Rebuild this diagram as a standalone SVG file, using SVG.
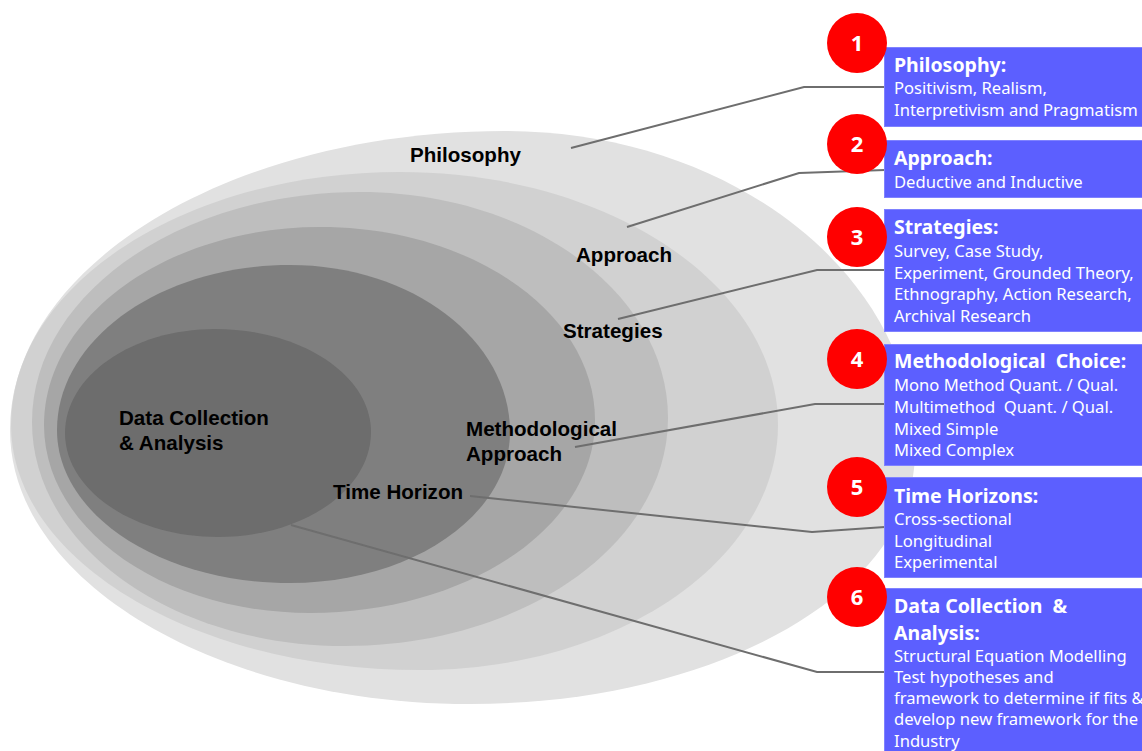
<svg xmlns="http://www.w3.org/2000/svg" width="1142" height="751" viewBox="0 0 1142 751">
  <style>
    .ring-label { font-family: "Liberation Sans", Arial, sans-serif; font-weight: bold; font-size: 20.6px; fill: #000; }
    .connector { fill: none; stroke: #6e6e6e; stroke-width: 2; }
    .box { fill: #5c5fff; stroke: #7f82ff; stroke-width: 1; }
    .badge { fill: #ff0000; }
    .badge-num { font-family: "Noto Sans", "Open Sans", sans-serif; font-weight: bold; font-size: 22px; fill: #fff; text-anchor: middle; }
    .box-title { font-family: "Noto Sans", "Open Sans", sans-serif; font-weight: bold; font-size: 19.5px; fill: #fff; white-space: pre; }
    .box-text { font-family: "Noto Sans", "Open Sans", sans-serif; font-size: 16.6px; fill: #fff; white-space: pre; }
  </style>

  <rect x="0" y="0" width="1142" height="751" fill="#ffffff"/>

  <!-- research onion layers, outermost first -->
  <g id="onion">
    <path id="layer-philosophy" fill="#e1e1e1" d="M10,430 C10,265 232,131 505,131 C731,131 915,275 915,452 C915,591 716,704 470,704 C216,704 10,581 10,430 Z"/>
    <path id="layer-approach" fill="#d1d1d1" d="M11,425 C11,285 185,172 400,172 C609,172 778,285 778,425 C778,560 618,670 420,670 C194,670 11,560 11,425 Z"/>
    <path id="layer-strategies" fill="#bebebe" d="M32,422 C32,295 179,192 360,192 C530,192 668,293 668,418 C668,544 523,646 345,646 C172,646 32,546 32,422 Z"/>
    <path id="layer-method" fill="#a6a6a6" d="M44,425 C44,316 168,227 320,227 C472,227 595,313 595,420 C595,527 467,613 310,613 C163,613 44,529 44,425 Z"/>
    <path id="layer-time" fill="#7f7f7f" d="M57,430 C57,339 161,265 290,265 C412,265 510,340 510,432 C510,515 412,583 290,583 C161,583 57,515 57,430 Z"/>
    <path id="layer-data" fill="#6d6d6d" d="M65,433 C65,376 132,329 215,329 C301,329 371,375 371,432 C371,490 303,537 218,537 C133,537 65,490 65,433 Z"/>
  </g>

  <!-- layer names -->
  <g id="onion-labels">
    <text class="ring-label" x="410" y="162">Philosophy</text>
    <text class="ring-label" x="576" y="262">Approach</text>
    <text class="ring-label" x="563" y="338">Strategies</text>
    <text class="ring-label" x="466" y="436">Methodological</text>
    <text class="ring-label" x="466" y="461">Approach</text>
    <text class="ring-label" x="333" y="499">Time Horizon</text>
    <text class="ring-label" x="119" y="425">Data Collection</text>
    <text class="ring-label" x="119" y="450">&amp; Analysis</text>
  </g>

  <!-- leader lines from layers to the detail boxes -->
  <g id="connectors">
    <polyline class="connector" points="571,148 804,87 885,87"/>
    <polyline class="connector" points="627,227 799,173 885,170"/>
    <polyline class="connector" points="618,319 817,270 885,270"/>
    <polyline class="connector" points="575,447 815,404 885,404"/>
    <polyline class="connector" points="470,496 812,532 885,527"/>
    <polyline class="connector" points="291,525 817,672 885,672"/>
  </g>

  <g id="box-philosophy">
    <rect class="box" x="884.5" y="47.5" width="260" height="79"/>
    <circle class="badge" cx="857" cy="43" r="30"/>
    <text class="badge-num" x="857" y="51">1</text>
    <text class="box-title" x="894" y="72">Philosophy:</text>
    <text class="box-text" x="894" y="94">Positivism, Realism,</text>
    <text class="box-text" x="894" y="116">Interpretivism and Pragmatism</text>
  </g>

  <g id="box-approach">
    <rect class="box" x="884.5" y="140.5" width="260" height="57"/>
    <circle class="badge" cx="857" cy="144" r="30"/>
    <text class="badge-num" x="857" y="152">2</text>
    <text class="box-title" x="894" y="165">Approach:</text>
    <text class="box-text" x="894" y="188">Deductive and Inductive</text>
  </g>

  <g id="box-strategies">
    <rect class="box" x="884.5" y="209.5" width="260" height="122"/>
    <circle class="badge" cx="857" cy="237" r="30"/>
    <text class="badge-num" x="857" y="245">3</text>
    <text class="box-title" x="894" y="234">Strategies:</text>
    <text class="box-text" x="894" y="257">Survey, Case Study,</text>
    <text class="box-text" x="894" y="279">Experiment, Grounded Theory,</text>
    <text class="box-text" x="894" y="300">Ethnography, Action Research,</text>
    <text class="box-text" x="894" y="322">Archival Research</text>
  </g>

  <g id="box-method">
    <rect class="box" x="884.5" y="344.5" width="260" height="121"/>
    <circle class="badge" cx="857" cy="359" r="30"/>
    <text class="badge-num" x="857" y="367">4</text>
    <text class="box-title" x="894" y="368">Methodological  Choice:</text>
    <text class="box-text" x="894" y="391">Mono Method Quant. / Qual.</text>
    <text class="box-text" x="894" y="413">Multimethod  Quant. / Qual.</text>
    <text class="box-text" x="894" y="435">Mixed Simple</text>
    <text class="box-text" x="894" y="456">Mixed Complex</text>
  </g>

  <g id="box-time">
    <rect class="box" x="884.5" y="477.5" width="260" height="100"/>
    <circle class="badge" cx="857" cy="487" r="30"/>
    <text class="badge-num" x="857" y="495">5</text>
    <text class="box-title" x="894" y="503">Time Horizons:</text>
    <text class="box-text" x="894" y="525">Cross-sectional</text>
    <text class="box-text" x="894" y="547">Longitudinal</text>
    <text class="box-text" x="894" y="568">Experimental</text>
  </g>

  <g id="box-data">
    <rect class="box" x="884.5" y="588.5" width="260" height="170"/>
    <circle class="badge" cx="857" cy="597" r="30"/>
    <text class="badge-num" x="857" y="605">6</text>
    <text class="box-title" x="894" y="613">Data Collection  &amp;</text>
    <text class="box-title" x="894" y="640">Analysis:</text>
    <text class="box-text" x="894" y="662">Structural Equation Modelling</text>
    <text class="box-text" x="894" y="683">Test hypotheses and</text>
    <text class="box-text" x="894" y="704">framework to determine if fits &amp;</text>
    <text class="box-text" x="894" y="725">develop new framework for the</text>
    <text class="box-text" x="894" y="747">Industry</text>
  </g>
</svg>
